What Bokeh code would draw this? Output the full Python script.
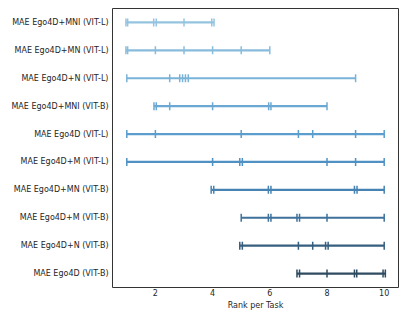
import math
from bokeh.plotting import figure
from bokeh.models import ColumnDataSource, FactorRange, Range1d, FixedTicker
from bokeh.embed import file_html
from bokeh.resources import INLINE

# Models, top to bottom as shown
models = [
    "MAE Ego4D+MNI (VIT-L)",
    "MAE Ego4D+MN (VIT-L)",
    "MAE Ego4D+N (VIT-L)",
    "MAE Ego4D+MNI (VIT-B)",
    "MAE Ego4D (VIT-L)",
    "MAE Ego4D+M (VIT-L)",
    "MAE Ego4D+MN (VIT-B)",
    "MAE Ego4D+M (VIT-B)",
    "MAE Ego4D+N (VIT-B)",
    "MAE Ego4D (VIT-B)",
]

# Rank per task for each model (duplicates drawn slightly apart)
ranks = [
    [0.97, 1.03, 1.94, 2.03, 3.0, 3.97, 4.05],
    [0.97, 1.03, 2.0, 3.0, 4.0, 5.0, 6.0],
    [1.0, 2.5, 2.85, 2.95, 3.05, 3.15, 9.0],
    [1.95, 2.03, 2.5, 4.0, 5.96, 6.04, 8.0],
    [1.0, 2.0, 5.0, 7.0, 7.5, 9.0, 10.0],
    [1.0, 4.0, 4.95, 5.04, 8.0, 9.0, 10.0],
    [3.95, 4.04, 5.95, 6.04, 8.96, 9.05, 10.0],
    [5.0, 5.95, 6.04, 6.95, 7.04, 8.0, 10.0],
    [4.95, 5.04, 7.0, 7.5, 7.95, 8.04, 10.0],
    [6.95, 7.04, 8.0, 8.96, 9.04, 9.96, 10.04],
]

colors = [
    "#94c4df", "#88bcdc", "#7ab3d8", "#6aa8d3", "#5b9dcd",
    "#4f91c3", "#4682b2", "#3e719b", "#365e7e", "#2e4b60",
]

x_ticks = [2, 4, 6, 8, 10]

p = figure(
    width=399, height=312,
    y_range=FactorRange(factors=list(reversed(models))),
    x_range=Range1d(0.5, 10.5),
    output_backend="svg", toolbar_location=None,
    min_border_left=112, min_border_right=1, min_border_top=8, min_border_bottom=0,
)
p.xgrid.visible = False
p.ygrid.visible = False
p.outline_line_color = "#333333"
p.outline_line_width = 1
p.background_fill_color = "white"
p.border_fill_color = "white"

seg_src = ColumnDataSource(dict(
    x0=[min(r) for r in ranks], x1=[max(r) for r in ranks], y=models, c=colors,
))
p.segment(x0="x0", x1="x1", y0="y", y1="y", line_color="c", line_width=2.2, source=seg_src)

xs, ys, cs = [], [], []
for m, r, c in zip(models, ranks, colors):
    for v in r:
        xs.append(v); ys.append(m); cs.append(c)
p.scatter(x=xs, y=ys, marker="dash", angle=math.pi / 2, size=8,
          line_color=cs, line_width=1.5, fill_color=None)

for ax in (p.xaxis[0], p.yaxis[0]):
    ax.axis_line_color = None
    ax.major_tick_line_color = None
    ax.minor_tick_line_color = None
    ax.major_label_text_font = "DejaVu Sans"
    ax.major_label_text_font_size = "8px"
    ax.major_label_text_color = "#262626"

p.xaxis.ticker = FixedTicker(ticks=x_ticks)
p.xaxis.major_tick_out = 0
p.xaxis.major_tick_in = 0
p.xaxis.major_label_standoff = 1
p.xaxis.axis_label = "Rank per Task"
p.xaxis.axis_label_text_font = "DejaVu Sans"
p.xaxis.axis_label_text_font_style = "normal"
p.xaxis.axis_label_text_font_size = "8px"
p.xaxis.axis_label_text_color = "#262626"
p.xaxis.axis_label_standoff = 2
p.yaxis.major_tick_out = 0
p.yaxis.major_tick_in = 0
p.yaxis.major_label_standoff = 4

open("out.html", "w").write(file_html(p, INLINE))
